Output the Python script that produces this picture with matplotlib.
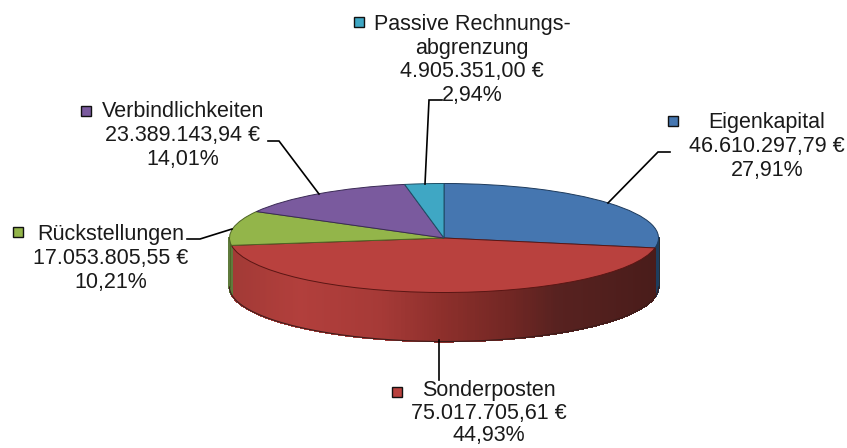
import numpy as np
import matplotlib
matplotlib.use("Agg")
import matplotlib.pyplot as plt
from matplotlib.collections import PolyCollection
from matplotlib.colors import LinearSegmentedColormap, to_rgba
from matplotlib.transforms import Affine2D

plt.rcParams['font.family'] = ['Liberation Sans', 'DejaVu Sans']

names = ["Eigenkapital", "Sonderposten", "Rückstellungen", "Verbindlichkeiten", "Passive Rechnungs-\nabgrenzung"]
values = [46610297.79, 75017705.61, 17053805.55, 23389143.94, 4905351.00]
amounts = ["46.610.297,79 €", "75.017.705,61 €", "17.053.805,55 €", "23.389.143,94 €", "4.905.351,00 €"]
percents = ["27,91%", "44,93%", "10,21%", "14,01%", "2,94%"]
colors = ["#4576b0", "#b9413e", "#93b54a", "#7a5a9e", "#3fa7c4"]
edges = ["#1d3a5c", "#5a1614", "#4d6324", "#3a2a55", "#1d4f66"]
wall_flat = {0: "#1e3e5e", 2: "#5f7b3c"}

W, H = 847, 448
CX, CY, RX, RY, DEPTH = 444.0, H - 238.0, 214.5, 54.5, 49.0

# layout in pixel coordinates (y from top)
label_pos = [(767, 146.5), (489, 413), (111, 258.5), (183, 135.5), (472, 60)]
label_spacing = [1.17, 1.1, 1.17, 1.17, 1.17]
marker_pos = [(673, 120.5), (397, 391.5), (17.5, 232), (86, 110.5), (358.5, 21.5)]
leaders = [
    [(670, 152), (658, 152), (608, 203)],
    [(439, 340), (439, 380)],
    [(187, 239), (200, 239), (232, 229)],
    [(268, 141), (279, 141), (319, 194)],
    [(442, 100), (429, 100), (425, 184)],
]

fig = plt.figure(figsize=(W / 100, H / 100), dpi=100)
ax = fig.add_axes([0, 0, 1, 1])

# top surface
wedges, _ = ax.pie(values, colors=colors, startangle=90, counterclock=False, radius=1.0,
                   wedgeprops={"linewidth": 0.7})
squash = Affine2D().scale(RX, RY).translate(CX, CY) + ax.transData
for w, e in zip(wedges, edges):
    w.set_edgecolor(e)
    w.set_transform(squash)
    w.set_zorder(3)

ax.set_aspect('auto')
ax.set_xlim(0, W)
ax.set_ylim(0, H)
ax.axis('off')

# side wall of the visible (front) half, shaded from left to right
red_shade = LinearSegmentedColormap.from_list("wall", [
    (0.0, "#a23a36"), (0.16, "#b23f3c"), (0.35, "#a63a37"), (0.5, "#8c2f2b"),
    (0.65, "#722724"), (0.76, "#582220"), (1.0, "#491c1a")])
total = float(sum(values))
bounds = np.concatenate([[0], np.cumsum(values)]) / total * 2 * np.pi
polys, fcs = [], []
for i in range(len(values)):
    a0, a1 = max(bounds[i], np.pi / 2), min(bounds[i + 1], 3 * np.pi / 2)
    if a1 <= a0:
        continue
    th = np.linspace(a0, a1, max(2, int((a1 - a0) * 90)))
    for t0, t1 in zip(th[:-1], th[1:]):
        x0, x1 = CX + RX * np.sin(t0), CX + RX * np.sin(t1)
        y0, y1 = CY + RY * np.cos(t0), CY + RY * np.cos(t1)
        polys.append([(x0, y0), (x1, y1), (x1, y1 - DEPTH), (x0, y0 - DEPTH)])
        if i in wall_flat:
            fcs.append(to_rgba(wall_flat[i]))
        else:
            fcs.append(red_shade((np.sin((t0 + t1) / 2) + 1) / 2))
ax.add_collection(PolyCollection(polys, facecolors=fcs, edgecolors=fcs, linewidths=0.8,
                                 antialiaseds=False, zorder=1))

# wall outline
th = np.linspace(np.pi / 2, 3 * np.pi / 2, 300)
ax.plot(CX + RX * np.sin(th), CY + RY * np.cos(th) - DEPTH, color="#3d1c1a", lw=0.8, zorder=2)
ax.plot([CX + RX, CX + RX], [CY, CY - DEPTH], color="#2a2a2a", lw=0.6, zorder=2)
ax.plot([CX - RX, CX - RX], [CY, CY - DEPTH], color="#4d6324", lw=0.6, zorder=2)

# labels, swatches, leader lines
for i, name in enumerate(names):
    lx, ly = label_pos[i]
    ax.text(lx, H - ly, f"{name}\n{amounts[i]}\n{percents[i]}", ha='center', va='center',
            fontsize=15.5, color="#1a1a1a", linespacing=label_spacing[i], zorder=5)
    mx, my = marker_pos[i]
    ax.plot([mx], [H - my], marker='s', ms=7.2, mfc=colors[i], mec="#111111", mew=1.0, ls='none', zorder=5)
    pts = np.array(leaders[i], dtype=float)
    ax.plot(pts[:, 0], H - pts[:, 1], color="black", lw=1.2, zorder=4, solid_joinstyle='miter')

fig.savefig("out.png", dpi=100, facecolor="white")
